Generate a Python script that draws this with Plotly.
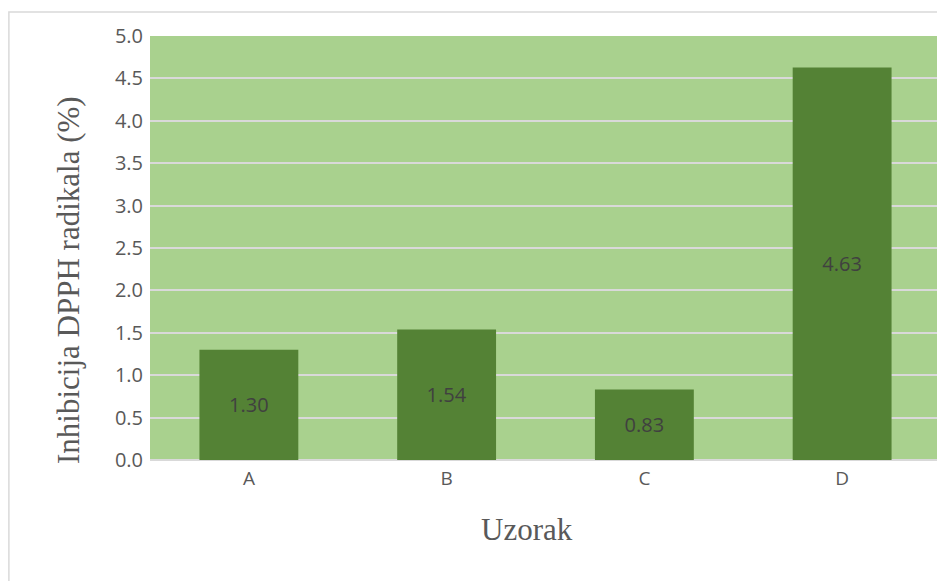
import plotly.graph_objects as go

categories = ["A", "B", "C", "D"]
values = [1.30, 1.54, 0.83, 4.63]
value_labels = ["1.30", "1.54", "0.83", "4.63"]
y_ticks = [0, 0.5, 1, 1.5, 2, 2.5, 3, 3.5, 4, 4.5, 5]
y_tick_labels = ["0.0", "0.5", "1.0", "1.5", "2.0", "2.5", "3.0", "3.5", "4.0", "4.5", "5.0"]

fig = go.Figure()
fig.add_trace(go.Bar(
    x=categories, y=values,
    text=value_labels, textposition="inside", insidetextanchor="middle",
    textfont=dict(family="Open Sans", size=20, color="#404040"),
    marker=dict(color="#548235", line=dict(width=0)),
    hoverinfo="skip",
))

fig.update_layout(
    width=937, height=573,
    margin=dict(l=142, r=4, t=28, b=121),
    paper_bgcolor="white",
    plot_bgcolor="#a9d18e",
    bargap=0.5,
    showlegend=False,
    xaxis=dict(
        showgrid=False, zeroline=False, showline=False, ticks="",
        tickfont=dict(family="Open Sans", size=19, color="#595959"),
        ticklabelstandoff=5,
    ),
    yaxis=dict(
        range=[0, 5], tickvals=y_ticks, ticktext=y_tick_labels,
        showgrid=True, gridcolor="#d9d9d9", gridwidth=1.5,
        zeroline=True, zerolinecolor="#d9d9d9", zerolinewidth=2,
        showline=False, ticks="",
        tickfont=dict(family="Open Sans", size=20, color="#595959"),
        ticklabelstandoff=6,
    ),
    annotations=[
        dict(text="Inhibicija DPPH radikala (%)", xref="paper", yref="paper",
             x=-0.1037, y=0.4245, xanchor="center", yanchor="middle",
             textangle=-90, showarrow=False,
             font=dict(family="Liberation Serif", size=31, color="#595959")),
        dict(text="Uzorak", xref="paper", yref="paper",
             x=0.4766, y=-0.165, xanchor="center", yanchor="middle",
             showarrow=False,
             font=dict(family="Liberation Serif", size=31, color="#595959")),
    ],
    shapes=[
        dict(type="rect", xref="paper", yref="paper",
             x0=-0.1784, x1=1.0063, y0=-0.2877, y1=1.0566,
             line=dict(color="#d9d9d9", width=1.5), fillcolor="rgba(0,0,0,0)",
             layer="below"),
    ],
)

fig.write_html("out.html")
